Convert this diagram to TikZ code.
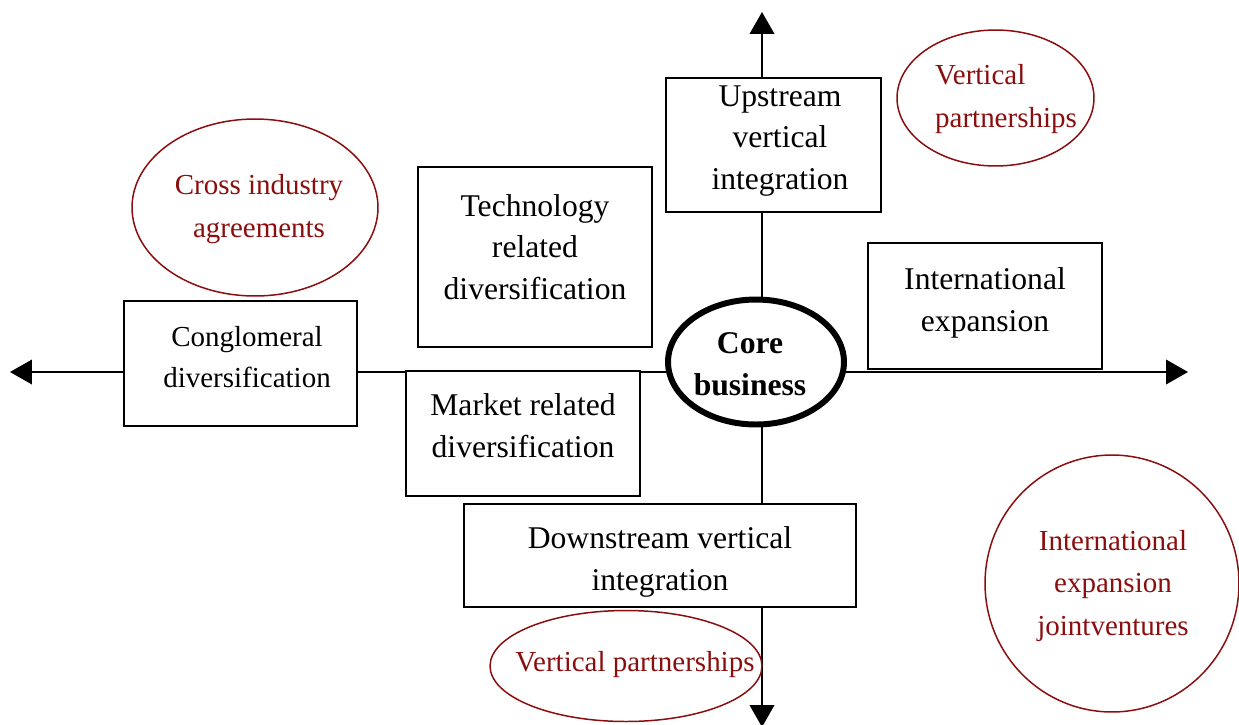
\documentclass[tikz,border=0pt]{standalone}
\usepackage{fontspec}
\setmainfont{Liberation Serif}
\usetikzlibrary{arrows.meta,backgrounds,shapes.geometric}
\definecolor{partnerred}{RGB}{139,14,14}
\tikzset{
	box/.style={draw, fill=white, line width=0.85pt, inner sep=0pt},
	boxtext/.style={align=center, inner sep=0pt, font=\fontsize{18}{23.8}\selectfont},
	partner/.style={text=partnerred, align=center, inner sep=0pt, font=\fontsize{16.5}{24}\selectfont},
	ring/.style={draw=partnerred, line width=0.85pt},
	axis/.style={line width=1pt, -{Triangle[length=12.5pt,width=14pt]}}
}

\begin{document}
\begin{tikzpicture}[x=0.02cm, y=-0.02cm]
			%%%%% START %%%%%
			\useasboundingbox (0,0) rectangle (1239,724);
			
			\coordinate (west) at (10,372);
			\coordinate (east) at (1188,372);
			\coordinate (north) at (762,12);
			\coordinate (south) at (762,727);
			
			\node[box, ellipse, line width=3.4pt, minimum width=3.52cm, minimum height=2.5cm] (core) at (756,362) {};
			\node[boxtext, font=\fontsize{18}{23.8}\selectfont\bfseries] (coretext) at (750,364) {Core\\business};
			
			\node[box, minimum width=4.66cm, minimum height=2.5cm] (conglo) at (240.5,363.5) {};
			\node[boxtext, font=\fontsize{16.5}{23.8}\selectfont] (conglotext) at (247,357) {Conglomeral\\diversification};
			
			\node[box, minimum width=4.68cm, minimum height=3.6cm] (tech) at (535,257) {};
			\node[boxtext] (techtext) at (535,247) {Technology\\related\\diversification};
			
			\node[box, minimum width=4.68cm, minimum height=2.5cm] (market) at (523,433.5) {};
			\node[boxtext] (markettext) at (523,426) {Market related\\diversification};
			
			\node[box, minimum width=4.3cm, minimum height=2.68cm] (upstream) at (773.5,145) {};
			\node[boxtext] (upstreamtext) at (780,141) {Upstream\\vertical\\integration};
			
			\node[box, minimum width=4.68cm, minimum height=2.52cm] (intl) at (985,306) {};
			\node[boxtext] (intltext) at (985,303) {International\\expansion};
			
			\node[box, minimum width=7.84cm, minimum height=2.06cm] (downstream) at (660,555.5) {};
			\node[boxtext] (downstreamtext) at (660,562) {Downstream vertical\\integration};
			
			\begin{scope}[on background layer]
				\draw[axis] (core.center |- east) -- (west);
				\draw[axis] (core.center |- east) -- (east);
				\draw[axis] (north |- core.center) -- (north);
				\draw[axis] (north |- core.center) -- (south);
			\end{scope}
			
			% partnerships
			\node[partner] (cross) at (259,209) {Cross industry\\agreements};
			\draw[ring] (255,207.5) ellipse [x radius=2.46cm, y radius=1.77cm];
			
			\node[partner, align=left] (vtop) at (1006,99) {Vertical\\partnerships};
			\draw[ring] (995.5,98) ellipse [x radius=1.97cm, y radius=1.36cm];
			
			\node[partner] (vbottom) at (635,665) {Vertical partnerships};
			\draw[ring] (626,666) ellipse [x radius=2.72cm, y radius=1.11cm];
			
			\node[partner] (joint) at (1113,586) {International\\expansion\\jointventures};
			\draw[ring] (1112,583.5) ellipse [x radius=2.54cm, y radius=2.57cm];
			%%%%% END %%%%%
\end{tikzpicture}
\end{document}
